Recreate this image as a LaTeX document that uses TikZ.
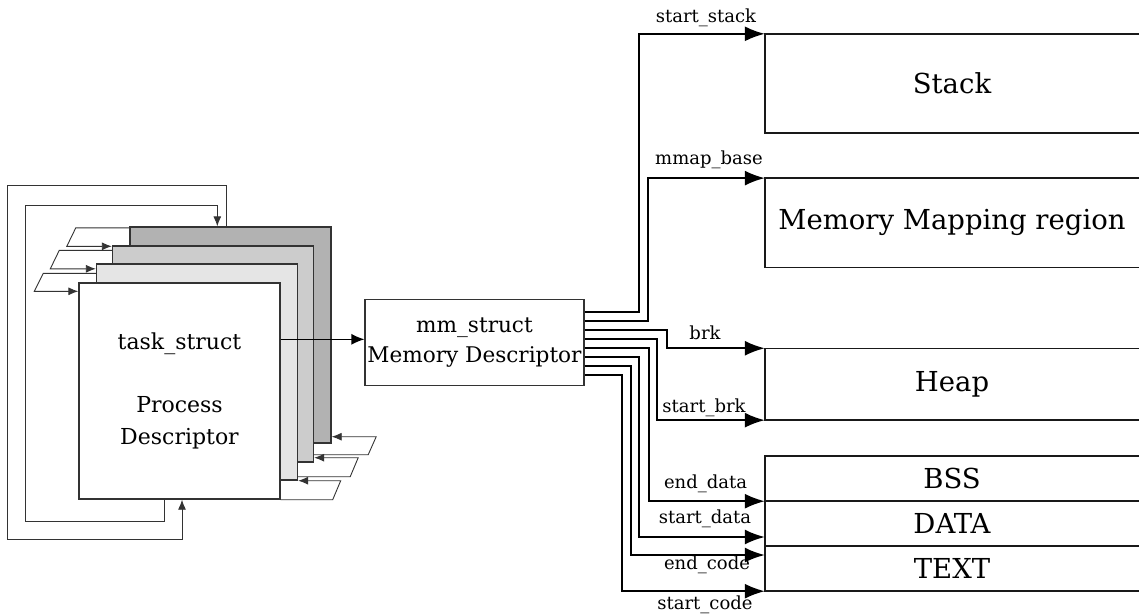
\documentclass[tikz,border=0pt]{standalone}
\usepackage{fontspec}
\setmainfont{DejaVu Serif}
\usetikzlibrary{arrows.meta,calc}
\begin{document}
\begin{tikzpicture}[x=1pt,y=-1pt,
  proc/.style={draw=black!80,line width=1.4pt,minimum width=201pt,minimum height=216pt,inner sep=0pt},
  mmbox/.style={draw=black!80,line width=1.2pt,fill=white,minimum width=219pt,minimum height=86pt,inner sep=0pt,align=center,font=\fontsize{21.6}{30}\selectfont},
  region/.style={minimum width=374pt,inner sep=0pt,font=\fontsize{27.5}{32}\selectfont},
  regline/.style={line width=1.5pt,black!90},
  conn/.style={line width=1.9pt,-{Latex[length=20pt,width=15pt]}},
  thinarr/.style={line width=0.9pt,black!80,-{Latex[length=10pt,width=8pt]}},
  lbl/.style={font=\fontsize{18}{20}\selectfont,inner sep=0pt}]
\useasboundingbox (0,0) rectangle (1139,614);
\fill[white] (0,0) rectangle (1139,614);

% process descriptor stack
\node[proc,fill=black!30] (b4) at (230.5,335) {};
\node[proc,fill=black!20] (b3) at (213,354) {};
\node[proc,fill=black!10] (b2) at (197,372) {};
\node[proc,fill=white,align=center,font=\fontsize{22}{31.7}\selectfont] (b1) at (179.5,391) {task\_struct\\[31.7pt]Process\\Descriptor};

% left links
\draw[thinarr] ([yshift=-1.5pt]b4.north west) -- ++(-53.5,0) -- ++(-9,18.5) -- ([yshift=-1pt]b3.north west);
\draw[thinarr] ([yshift=-5pt]b3.north west) -- ++(-52.5,0) -- ++(-9,18.5) -- ([yshift=-5.5pt]b2.north west);
\draw[thinarr] ([yshift=-10pt]b2.north west) -- ++(-52.5,0) -- ++(-9,18) -- ([yshift=-9pt]b1.north west);

% right links
\draw[thinarr] ([yshift=8pt]b3.south east) -- ++(54,0) -- ++(8,-18) -- ([yshift=7pt]b4.south east);
\draw[thinarr] ([yshift=4pt]b2.south east) -- ++(52,0) -- ++(8,-19) -- ([yshift=5pt]b3.south east);
\draw[thinarr] (b1.south east) -- ++(52,0) -- ++(8,-19) -- (b2.south east);

% loops
\draw[thinarr] ([xshift=86pt]b1.south west) -- ++(0,22) -| ++(-139.3,-316.7) -| ([xshift=88pt]b4.north west);
\draw[thinarr] ([xshift=97pt]b4.north west) -- ++(0,-41.3) -| ++(-218.7,354.3) -| ([xshift=103.7pt]b1.south west);

% mm_struct
\node[mmbox] (mm) at (474.5,342.3) {mm\_struct\\Memory Descriptor};
\coordinate (mmin) at ([yshift=3pt]mm.west);
\draw[line width=1.2pt,-{Latex[length=13pt,width=11pt]}] (b1.east |- mmin) -- (mmin);

% regions
\node[region,minimum height=99pt] (stack) at (952,83.5) {Stack};
\node[region,minimum height=89pt] (mmap) at (952,222.8) {Memory Mapping region};
\node[region,minimum height=71.5pt] (heap) at (952,384.2) {Heap};
\node[region,minimum height=45pt] (bss) at (952,478.5) {BSS};
\node[region,minimum height=45pt] (data) at (952,523.5) {DATA};
\node[region,minimum height=45pt] (txt) at (952,568.5) {TEXT};
\foreach \r in {stack,mmap,heap,bss,data,txt}{
  \draw[regline] (\r.north east) -- (\r.north west) -- (\r.south west) -- (\r.south east);
}

% connectors
\draw[conn] ([yshift=-13.5pt]mm.north east) -- ++(54.8,0) |- (stack.north west);
\draw[conn] ([yshift=-22.5pt]mm.north east) -- ++(63.8,0) |- (mmap.north west);
\draw[conn] ([yshift=-31.5pt]mm.north east) -- ++(82.2,0) |- (heap.north west);
\draw[conn] ([yshift=-40.5pt]mm.north east) -- ++(72.8,0) |- (heap.south west);
\draw[conn] ([yshift=-49.5pt]mm.north east) -- ++(64.2,0) |- (bss.south west);
\draw[conn] ([yshift=-58.5pt]mm.north east) -- ++(54.8,0) |- ([yshift=-13.5pt]data.west);
\draw[conn] ([yshift=-67.5pt]mm.north east) -- ++(46.2,0) |- ([yshift=13.5pt]txt.west);
\draw[conn] ([yshift=-76.5pt]mm.north east) -- ++(37.2,0) |- (txt.south west);

% labels
\node[lbl] (l1) at (706,18) {start\_stack};
\node[lbl] (l2) at (709,160) {mmap\_base};
\node[lbl] (l3) at (705,332.7) {brk};
\node[lbl] (l4) at (704,407.3) {start\_brk};
\node[lbl] (l5) at (705.5,483.3) {end\_data};
\node[lbl] (l6) at (705,518.3) {start\_data};
\node[lbl] (l7) at (707,564.3) {end\_code};
\node[lbl] (l8) at (705,605) {start\_code};
\end{tikzpicture}
\end{document}
